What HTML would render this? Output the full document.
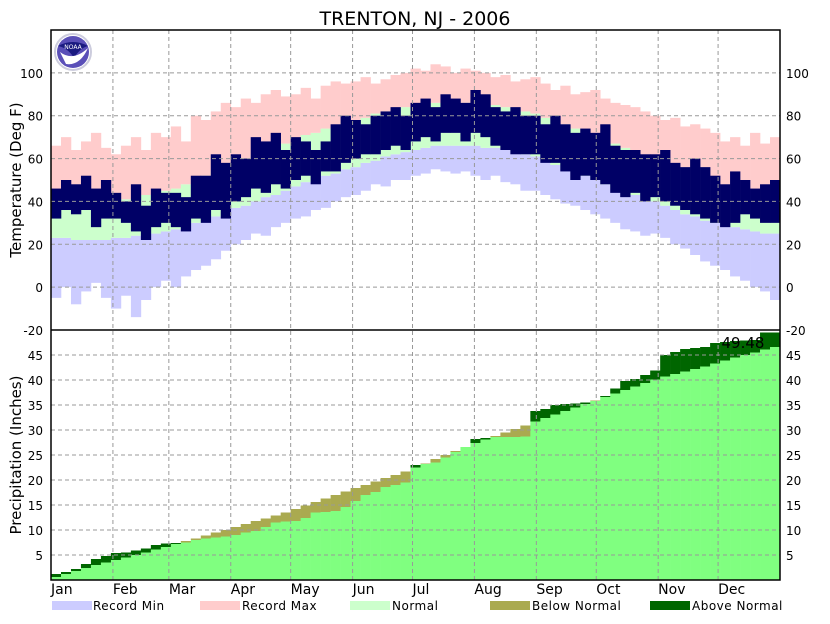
<!DOCTYPE html>
<html><head><meta charset="utf-8"><style>
body{margin:0;background:#fff;width:830px;height:620px;overflow:hidden;font-family:"DejaVu Sans","Liberation Sans",sans-serif}
svg text{font-family:"DejaVu Sans","Liberation Sans",sans-serif}
</style></head><body>
<svg id="c" width="830" height="620" viewBox="0 0 830 620" xmlns="http://www.w3.org/2000/svg">
<text x="415" y="25" text-anchor="middle" font-size="19">TRENTON, NJ - 2006</text>
<g id="temp"></g>
<g id="prcp"></g>
<g id="grid"></g>
<g id="axes"></g>
<g>
<circle cx="73" cy="52" r="18" fill="#fff" stroke="#ccccdd" stroke-width="2"/>
<circle cx="73" cy="52" r="16" fill="#5a4fb8"/>
<path d="M58,46 Q73,38 88,46 Q80,48 74,58 Q68,48 58,46Z" fill="#1a1a80"/>
<path d="M60,52 Q73,62 88,48 Q80,66 66,64Z" fill="#fff"/>
<text x="73" y="49" text-anchor="middle" font-size="6" fill="#fff">NOAA</text>
</g>
<text x="743" y="348" text-anchor="middle" font-size="15">49.48</text>
<text transform="translate(21,180) rotate(-90)" text-anchor="middle" font-size="15">Temperature (Deg F)</text>
<text transform="translate(21,455) rotate(-90)" text-anchor="middle" font-size="15">Precipitation (Inches)</text>
<g>
<g><rect x="52" y="601" width="40" height="9" fill="#ccccff"/><text x="93" y="610" font-size="12" letter-spacing="0.5">Record Min</text></g>
<g><rect x="200" y="601" width="40" height="9" fill="#ffcccc"/><text x="242" y="610" font-size="12" letter-spacing="0.5">Record Max</text></g>
<g><rect x="350" y="601" width="40" height="9" fill="#ccffcc"/><text x="392" y="610" font-size="12" letter-spacing="0.5">Normal</text></g>
<g><rect x="490" y="601" width="40" height="9" fill="#aaaa50"/><text x="532" y="610" font-size="12" letter-spacing="0.5">Below Normal</text></g>
<g><rect x="650" y="601" width="40" height="9" fill="#006600"/><text x="692" y="610" font-size="12" letter-spacing="0.5">Above Normal</text></g>
</g>
</svg>
<script>
const months=["Jan","Feb","Mar","Apr","May","Jun","Jul","Aug","Sep","Oct","Nov","Dec"];
const monthStartDays=[0,31,59,90,120,151,181,212,243,273,304,334];
const tempTicks=[100,80,60,40,20,0,-20];
const precipTicks=[45,40,35,30,25,20,15,10,5];
const blockDays=5;
const normHi=[40,40,39,39,39,39,40,41,42,43,44,45,46,48,50,52,54,56,58,60,62,64,66,67,69,71,72,74,75,77,78,79,81,82,83,84,85,85,86,86,86,86,86,85,85,84,83,82,81,79,78,76,74,72,71,69,67,65,63,61,59,57,55,53,51,49,48,46,45,44,43,42,41];
const normLo=[23,23,22,22,22,22,23,23,24,25,25,26,27,29,30,32,33,35,37,38,40,42,43,45,47,49,50,52,53,55,56,58,59,61,62,63,64,65,66,66,66,66,66,65,65,64,63,62,61,59,57,55,54,52,50,48,46,45,43,41,40,38,36,34,33,31,30,29,28,27,26,25,25];
const recMax=[66,70,64,68,72,65,62,66,70,64,72,70,75,68,80,78,82,86,84,88,86,90,92,89,90,93,88,94,96,95,96,98,95,97,99,100,102,101,104,103,100,102,101,100,98,99,96,97,98,95,92,94,90,91,92,88,86,85,84,82,80,78,79,75,76,74,72,68,70,66,72,67,70];
const recMin=[-5,0,-8,-2,2,-5,-10,-4,-14,-6,0,3,0,5,8,10,13,17,20,22,25,24,28,30,32,33,36,37,40,42,43,45,48,47,50,50,52,53,55,54,53,54,52,50,52,49,48,45,45,43,41,39,38,36,34,32,30,27,26,24,25,23,20,18,15,12,10,8,5,3,0,-2,-6];
const obsHi=[46,50,48,52,46,50,44,40,48,38,46,44,44,42,52,52,62,58,62,60,70,68,72,64,70,68,64,68,76,80,78,76,80,82,84,80,86,88,84,90,88,86,92,90,84,82,84,80,80,76,80,76,72,74,72,76,66,64,64,62,62,64,58,56,60,56,52,48,54,50,46,48,50];
const obsLo=[32,36,34,36,28,32,32,30,26,22,28,30,28,26,32,30,36,32,40,42,46,44,48,46,50,52,48,54,54,58,60,62,62,64,66,64,68,70,68,72,72,68,72,70,66,64,62,62,62,58,58,54,50,52,50,48,44,42,44,40,42,40,38,36,34,32,30,28,30,34,32,30,30];
const normCum=[0.6,1.2,1.8,2.4,3.0,3.5,4.0,4.5,5.0,5.5,6.1,6.6,7.2,7.8,8.3,8.9,9.5,10.0,10.6,11.2,11.8,12.3,12.9,13.5,14.2,14.9,15.6,16.3,17.0,17.7,18.4,19.0,19.7,20.4,21.0,21.7,22.5,23.3,24.2,25.0,25.8,26.6,27.4,28.1,28.8,29.5,30.2,30.9,31.7,32.4,33.1,33.8,34.5,35.2,35.9,36.6,37.3,38.0,38.7,39.4,40.1,40.7,41.2,41.7,42.2,42.7,43.3,43.9,44.5,45.0,45.5,46.1,46.6];
const obsCum=[1.2,1.6,2.2,3.2,4.2,4.8,5.4,5.5,5.9,6.3,7.0,7.3,7.4,7.5,8.0,8.3,8.5,8.7,9.0,9.5,9.8,10.6,11.5,11.7,11.8,12.4,13.5,13.6,13.8,14.6,15.8,17.0,17.6,18.6,19.0,19.5,23.0,23.2,23.5,24.5,25.6,26.6,28.2,28.4,28.6,28.6,28.6,28.7,33.8,34.2,35.0,35.2,35.3,35.5,35.8,36.8,38.3,39.8,40.2,41.0,41.9,45.0,45.6,46.2,46.4,46.6,47.4,47.6,47.8,47.9,48.0,49.5,49.5];

const NS="http://www.w3.org/2000/svg";
const L=51,R=780,T=30,MID=330,B=580;
const xD=d=>L+d*(R-L)/365;
const yT=v=>MID-(v+20)*(MID-T)/140;
const yP=v=>B-v*(B-MID)/50;
function mk(tag,parent,attrs){const e=document.createElementNS(NS,tag);for(const k in attrs)e.setAttribute(k,attrs[k]);parent.appendChild(e);return e;}
function bar(g,i,lo,hi,fill,ys){
  const x0=xD(i*blockDays),x1=xD(Math.min(365,(i+1)*blockDays));
  const a=ys(hi),b=ys(lo);
  return mk('rect',g,{x:x0,y:Math.min(a,b),width:x1-x0+0.3,height:Math.abs(b-a),fill:fill});
}
const tg=document.getElementById('temp');
for(let i=0;i<normHi.length;i++){
  let r=bar(tg,i,recMin[i],normLo[i],'#ccccff',yT);
  
  
  r=bar(tg,i,normLo[i],normHi[i],'#ccffcc',yT);
  
  
  r=bar(tg,i,normHi[i],recMax[i],'#ffcccc',yT);
  
  
}
for(let i=0;i<obsHi.length;i++){
  const r=bar(tg,i,obsLo[i],obsHi[i],'#000066',yT);
  
  
}
const pg=document.getElementById('prcp');
for(let i=0;i<normCum.length;i++){
  const n=normCum[i],o=obsCum[i];
  let r=bar(pg,i,0,Math.min(n,o),'#80ff80',yP);
  
  
  if(o>n){r=bar(pg,i,n,o,'#006600',yP);
    
    }
  else if(o<n){r=bar(pg,i,o,n,'#aaaa50',yP);
    
    }
}
const gg=document.getElementById('grid');
const dash={stroke:'#999','stroke-width':1,'stroke-dasharray':'4,3'};
monthStartDays.forEach((d,i)=>{ if(i>0){const l=mk('line',gg,Object.assign({x1:xD(d),x2:xD(d),y1:T,y2:B},dash));
  
  }});
tempTicks.forEach(v=>{ if(v>-20){const l=mk('line',gg,Object.assign({x1:L,x2:R,y1:yT(v),y2:yT(v)},dash));
  
  }});
precipTicks.forEach(v=>{const l=mk('line',gg,Object.assign({x1:L,x2:R,y1:yP(v),y2:yP(v)},dash));
  
  });
const ag=document.getElementById('axes');
mk('rect',ag,{x:L,y:T,width:R-L,height:B-T,fill:'none',stroke:'#000','stroke-width':1.5});
mk('line',ag,{x1:L,x2:R,y1:MID,y2:MID,stroke:'#000','stroke-width':1.5});
function lab(x,y,txt,anchor,name){const t=mk('text',ag,{x:x,y:y,'text-anchor':anchor,'font-size':12});t.textContent=txt;
  
  }
tempTicks.forEach(v=>{lab(43,yT(v)+5,String(v),'end','temp-tick-label');lab(786,yT(v)+5,String(v),'start','temp-tick-label-right');});
precipTicks.forEach(v=>{lab(43,yP(v)+5,String(v),'end','precip-tick-label');lab(786,yP(v)+5,String(v),'start','precip-tick-label-right');});
months.forEach((m,i)=>{const t=mk('text',ag,{x:xD(monthStartDays[i]),y:594,'font-size':14});t.textContent=m;
  
  });
</script>
</body></html>
